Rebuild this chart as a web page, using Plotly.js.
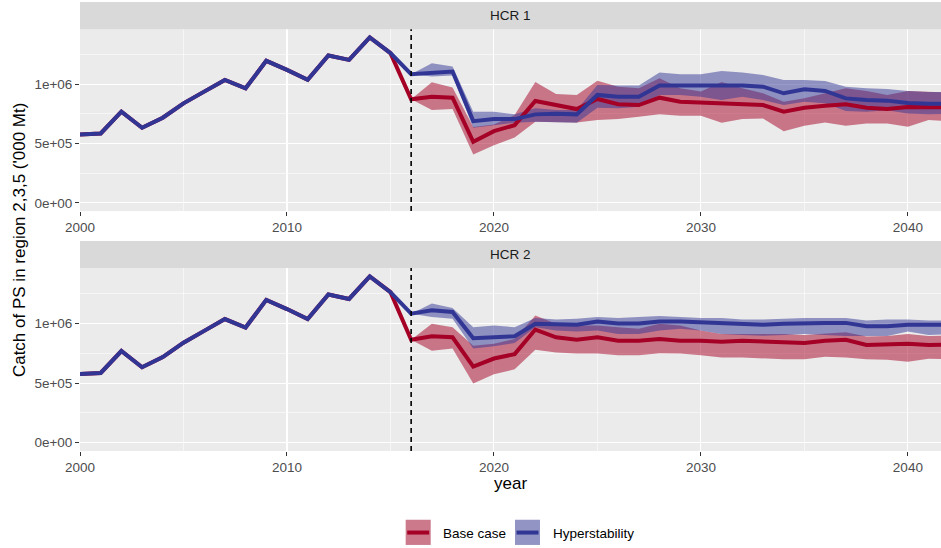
<!DOCTYPE html>
<html>
<head>
<meta charset="utf-8">
<script src="https://cdn.plot.ly/plotly-3.0.1.min.js"></script>
<style>html,body{margin:0;padding:0;background:#fff;}#chart{width:941px;height:548px;}</style>
</head>
<body>
<div id="chart"></div>
<script>
// ---------------- data ----------------
const histYears = [2000,2001,2002,2003,2004,2005,2006,2007,2008,2009,2010,2011,2012,2013,2014,2015];
const histCatch = [576000,585000,769000,633000,718000,839000,938000,1037000,966000,1198000,1121000,1037000,1243000,1206000,1395000,1263000];

const projYears = [2016,2017,2018,2019,2020,2021,2022,2023,2024,2025,2026,2027,2028,2029,2030,2031,2032,2033,2034,2035,2036,2037,2038,2039,2040,2041,2042];

// HCR 1
const hcr1BaseMed = [873000,895000,887000,514000,604000,655000,859000,825000,791000,876000,831000,825000,887000,853000,847000,839000,839000,825000,768000,802000,819000,831000,802000,791000,808000,802000,805000];
const hcr1BaseLo  = [873000,782000,791000,407000,486000,550000,684000,684000,678000,698000,706000,726000,746000,734000,734000,675000,706000,712000,604000,650000,678000,650000,670000,670000,641000,698000,690000];
const hcr1BaseHi  = [873000,1017000,972000,640000,660000,740000,1020000,918000,910000,1030000,980000,966000,1050000,966000,938000,1020000,966000,924000,853000,881000,924000,966000,944000,910000,944000,935000,930000];
const hcr1HypMed  = [1085000,1100000,1107000,689000,706000,706000,746000,751000,746000,910000,895000,895000,989000,989000,989000,994000,989000,980000,924000,958000,944000,881000,867000,862000,842000,836000,835000];
const hcr1HypLo   = [1085000,1065000,1073000,633000,655000,675000,684000,678000,675000,802000,797000,811000,910000,910000,895000,867000,895000,867000,825000,853000,839000,774000,768000,780000,754000,746000,750000];
const hcr1HypHi   = [1085000,1178000,1150000,769000,769000,746000,797000,783000,783000,994000,989000,989000,1100000,1085000,1085000,1113000,1100000,1079000,1037000,1037000,1028000,980000,966000,960000,944000,935000,935000];

// HCR 2
const hcr2BaseMed = [864000,893000,884000,638000,706000,743000,949000,884000,864000,884000,856000,856000,870000,856000,856000,847000,856000,847000,842000,836000,856000,864000,819000,825000,830000,819000,825000];
const hcr2BaseLo  = [864000,771000,791000,497000,573000,616000,780000,757000,748000,748000,734000,734000,751000,748000,734000,714000,714000,707000,700000,700000,720000,714000,700000,695000,678000,705000,700000];
const hcr2BaseHi  = [864000,997000,969000,814000,830000,870000,1068000,997000,983000,983000,969000,955000,997000,983000,941000,912000,912000,912000,912000,904000,912000,926000,890000,895000,912000,895000,900000];
const hcr2HypMed  = [1082000,1110000,1096000,876000,884000,893000,997000,990000,990000,1017000,1000000,1000000,1017000,1017000,1011000,997000,997000,990000,997000,1005000,1005000,1005000,977000,977000,990000,990000,990000];
const hcr2HypLo   = [1082000,1054000,1040000,791000,808000,836000,969000,941000,932000,941000,912000,912000,941000,955000,941000,912000,904000,898000,904000,912000,904000,895000,895000,895000,932000,904000,910000];
const hcr2HypHi   = [1082000,1167000,1130000,969000,983000,969000,1045000,1034000,1040000,1054000,1045000,1054000,1062000,1054000,1045000,1045000,1034000,1034000,1040000,1045000,1045000,1045000,1025000,1034000,1034000,1025000,1025000];

const panelLabels = ["HCR 1", "HCR 2"];
const scenarioNames = ["Base case", "Hyperstability"];
const projStart = 2016;
const xTickVals = [2000, 2010, 2020, 2030, 2040];
const xMinorVals = [2005, 2015, 2025, 2035];
const yTickVals = [0, 500000, 1000000];
const yTickText = ["0e+00", "5e+05", "1e+06"];
const yMinorVals = [250000, 750000, 1250000];

// ---------------- styles ----------------
const lineColors = ["#A50026", "#313695"];
const fillColors = ["rgba(165,0,38,0.5)", "rgba(49,54,149,0.5)"];
const FONT = "Liberation Sans, Arial, sans-serif";

const panels = [
  {xa: "x", ya: "y", sets: [[hcr1BaseMed, hcr1BaseLo, hcr1BaseHi], [hcr1HypMed, hcr1HypLo, hcr1HypHi]]},
  {xa: "x2", ya: "y2", sets: [[hcr2BaseMed, hcr2BaseLo, hcr2BaseHi], [hcr2HypMed, hcr2HypLo, hcr2HypHi]]}
];

const traces = [];
panels.forEach(p => {
  // ribbons first
  p.sets.forEach((s, k) => {
    traces.push({x: projYears, y: s[1], xaxis: p.xa, yaxis: p.ya, type: "scatter", mode: "lines",
      line: {width: 0, color: fillColors[k]}, hoverinfo: "skip", showlegend: false});
    traces.push({x: projYears, y: s[2], xaxis: p.xa, yaxis: p.ya, type: "scatter", mode: "lines",
      fill: "tonexty", fillcolor: fillColors[k],
      line: {width: 0, color: fillColors[k]}, hoverinfo: "skip", showlegend: false});
  });
  // lines on top
  p.sets.forEach((s, k) => {
    traces.push({x: histYears.concat(projYears), y: histCatch.concat(s[0]), xaxis: p.xa, yaxis: p.ya,
      type: "scatter", mode: "lines", name: scenarioNames[k],
      line: {width: 4, color: lineColors[k]}, showlegend: false});
  });
});

// paper helpers (margins l=80, t=5, b=97 ; plot area 861 x 443)
const PX = px => (px - 80) / 861;
const PY = py => (451 - py) / 443;

const xaxisBase = {
  range: [2000, 2041.6], showline: false, zeroline: false,
  tickmode: "array", tickvals: xTickVals, ticktext: xTickVals.map(String),
  ticks: "outside", ticklen: 4, tickwidth: 1, tickcolor: "#333333",
  tickfont: {family: FONT, size: 13.5, color: "#4D4D4D"},
  showgrid: true, gridcolor: "#FFFFFF", gridwidth: 1.1,
  minor: {tickmode: "array", tickvals: xMinorVals, showgrid: true, gridcolor: "#FFFFFF", gridwidth: 0.55, ticks: ""},
  fixedrange: true
};
const yaxisBase = {
  range: [-70000, 1465000], showline: false, zeroline: false,
  tickmode: "array", tickvals: yTickVals, ticktext: yTickText,
  ticks: "outside", ticklen: 4, tickwidth: 1, tickcolor: "#333333",
  tickfont: {family: FONT, size: 13.5, color: "#4D4D4D"},
  showgrid: true, gridcolor: "#FFFFFF", gridwidth: 1.1,
  minor: {tickmode: "array", tickvals: yMinorVals, showgrid: true, gridcolor: "#FFFFFF", gridwidth: 0.55, ticks: ""},
  fixedrange: true
};

const shapes = [];
const annotations = [];
// panel backgrounds
[[PY(212.7), PY(32)], [0, PY(269.3)]].forEach(d => {
  shapes.push({type: "rect", xref: "paper", yref: "paper", x0: 0, x1: 1, y0: d[0], y1: d[1],
    fillcolor: "#EBEBEB", line: {width: 0}, layer: "below"});
});
// strips
[[PY(32), PY(5)], [PY(269.3), PY(242.3)]].forEach((d, i) => {
  shapes.push({type: "rect", xref: "paper", yref: "paper", x0: 0, x1: 1, y0: d[0], y1: d[1],
    fillcolor: "#D9D9D9", line: {width: 0}});
  annotations.push({xref: "paper", yref: "paper", x: 0.5, y: (d[0] + d[1]) / 2, text: panelLabels[i],
    showarrow: false, xanchor: "center", yanchor: "middle", font: {family: FONT, size: 13.5, color: "#1A1A1A"}});
});
// projection start dashed lines
["", "2"].forEach(s => {
  shapes.push({type: "line", xref: "x" + s, yref: "y" + s + " domain", x0: projStart, x1: projStart, y0: 0, y1: 1,
    line: {color: "#000000", width: 1.6, dash: "5px,4px"}});
});
// axis titles
annotations.push({xref: "paper", yref: "paper", x: 0.5, y: PY(483), text: "year", showarrow: false,
  xanchor: "center", yanchor: "middle", font: {family: FONT, size: 17, color: "#000000"}});
annotations.push({xref: "paper", yref: "paper", x: PX(19), y: PY(241.5), text: "Catch of PS in region 2,3,5 ('000 Mt)",
  showarrow: false, textangle: -90, xanchor: "center", yanchor: "middle", font: {family: FONT, size: 17, color: "#000000"}});
// legend (ggplot style keys)
const keyX = [405.7, 515];
const labX = [441, 551];
scenarioNames.forEach((nm, k) => {
  const x0 = PX(keyX[k]), x1 = PX(keyX[k] + 25);
  shapes.push({type: "rect", xref: "paper", yref: "paper", x0: x0, x1: x1, y0: PY(544.3), y1: PY(519.3),
    fillcolor: "#F2F2F2", line: {width: 0}});
  shapes.push({type: "rect", xref: "paper", yref: "paper", x0: x0, x1: x1, y0: PY(544.3), y1: PY(519.3),
    fillcolor: fillColors[k], line: {width: 0}});
  shapes.push({type: "line", xref: "paper", yref: "paper", x0: PX(keyX[k] + 1.5), x1: PX(keyX[k] + 23.5),
    y0: PY(532), y1: PY(532), line: {color: lineColors[k], width: 4}});
  annotations.push({xref: "paper", yref: "paper", x: PX(labX[k]), y: PY(532.5), text: nm, showarrow: false,
    xanchor: "left", yanchor: "middle", font: {family: FONT, size: 13.5, color: "#000000"}});
});

const layout = {
  width: 941, height: 548,
  margin: {l: 80, r: 0, t: 5, b: 97, pad: 0},
  paper_bgcolor: "#FFFFFF", plot_bgcolor: "#EBEBEB",
  showlegend: false,
  xaxis: Object.assign({}, xaxisBase, {domain: [0, 1], anchor: "y"}),
  yaxis: Object.assign({}, yaxisBase, {domain: [PY(212.7), PY(32)], anchor: "x"}),
  xaxis2: Object.assign({}, xaxisBase, {domain: [0, 1], anchor: "y2"}),
  yaxis2: Object.assign({}, yaxisBase, {domain: [0, PY(269.3)], anchor: "x2"}),
  shapes: shapes,
  annotations: annotations,
  font: {family: FONT}
};

Plotly.newPlot("chart", traces, layout, {staticPlot: true, displayModeBar: false});
</script>
</body>
</html>
